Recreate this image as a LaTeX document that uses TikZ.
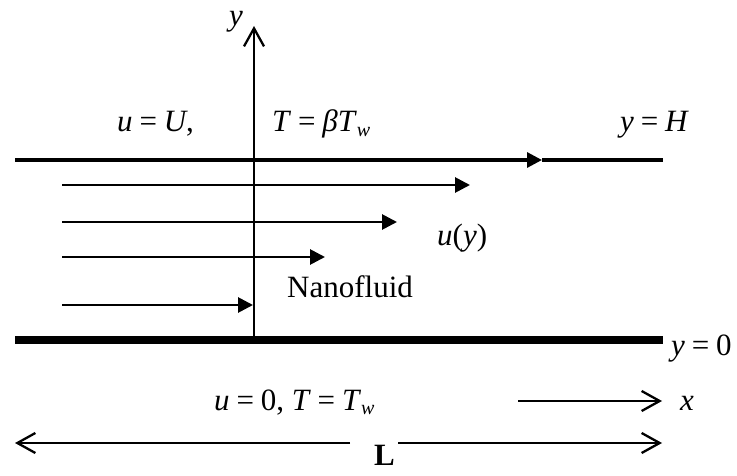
\documentclass[tikz,border=0pt]{standalone}
\usepackage{fontspec}
\setmainfont{Liberation Serif}
\usetikzlibrary{arrows.meta}
\newcommand{\mi}[1]{\textit{#1}}
\newcommand{\eq}{\hspace{0.22em}=\hspace{0.22em}}
\newcommand{\sbw}{\raisebox{-0.3ex}{\fontsize{20}{22}\selectfont\mi{w}}}
\begin{document}
\begin{tikzpicture}[x=1pt,y=-1pt,
  lbl/.style={inner sep=0pt,anchor=base west,font=\fontsize{31}{36}\selectfont},
  flowarrow/.style={line width=2.8pt,-{Triangle[length=15pt,width=15pt]}},
  openarrow/.style={line width=2.3pt,-{Straight Barb[length=18pt,width=20pt,line width=2.3pt]}}]
\useasboundingbox (0,0) rectangle (737,476);
% walls
\coordinate (tl) at (15,160);
\coordinate (tm) at (542,160);
\coordinate (tr) at (663,160);
\coordinate (bl) at (15,340);
\coordinate (br) at (663,340);
\draw[line width=3.2pt,-{Triangle[length=15pt,width=15pt]}] (tl) -- (tm);
\draw[line width=3.2pt] (tm) -- (tr);
\draw[line width=7.5pt] (bl) -- (br);
% y axis
\coordinate (ya) at (254,340);
\coordinate (yb) at (254,26);
\draw[openarrow] (ya) -- (yb);
\node[lbl] (ylab) at (229,26) {\mi{y}};
% velocity arrows
\coordinate (a1s) at (62,185); \coordinate (a1e) at (470,185);
\coordinate (a2s) at (62,222); \coordinate (a2e) at (397,222);
\coordinate (a3s) at (62,257); \coordinate (a3e) at (325,257);
\coordinate (a4s) at (62,305); \coordinate (a4e) at (253,305);
\draw[flowarrow] (a1s) -- (a1e);
\draw[flowarrow] (a2s) -- (a2e);
\draw[flowarrow] (a3s) -- (a3e);
\draw[flowarrow] (a4s) -- (a4e);
% labels
\node[lbl] (uU) at (117,132) {\mi{u}\eq\mi{U},};
\node[lbl] (TbT) at (272,132) {\mi{T}\eq\mi{β}\mi{T}\sbw};
\node[lbl] (yH) at (620,132) {\mi{y}\eq\mi{H}};
\node[lbl] (uy) at (437,245) {\mi{u}(\mi{y})};
\node[lbl] (nano) at (287,298) {Nanofluid};
\node[lbl] (y0) at (671,355) {\mi{y}\eq0};
\node[lbl] (bc) at (214,410) {\mi{u}\eq0, \mi{T}\eq\mi{T}\sbw};
% x arrow
\coordinate (xs) at (518,401);
\coordinate (xe) at (662,401);
\draw[openarrow] (xs) -- (xe);
\node[lbl] (xlab) at (680,410) {\mi{x}};
% L dimension
\node[lbl,font=\fontsize{31}{36}\selectfont\bfseries] (L) at (374,465) {L};
\coordinate (Ll) at (15,443);
\coordinate (Lr) at (662,443);
\coordinate (Lml) at (350,443);
\coordinate (Lmr) at (398,443);
\draw[openarrow] (Lml) -- (Ll);
\draw[openarrow] (Lmr) -- (Lr);
\end{tikzpicture}
\end{document}
